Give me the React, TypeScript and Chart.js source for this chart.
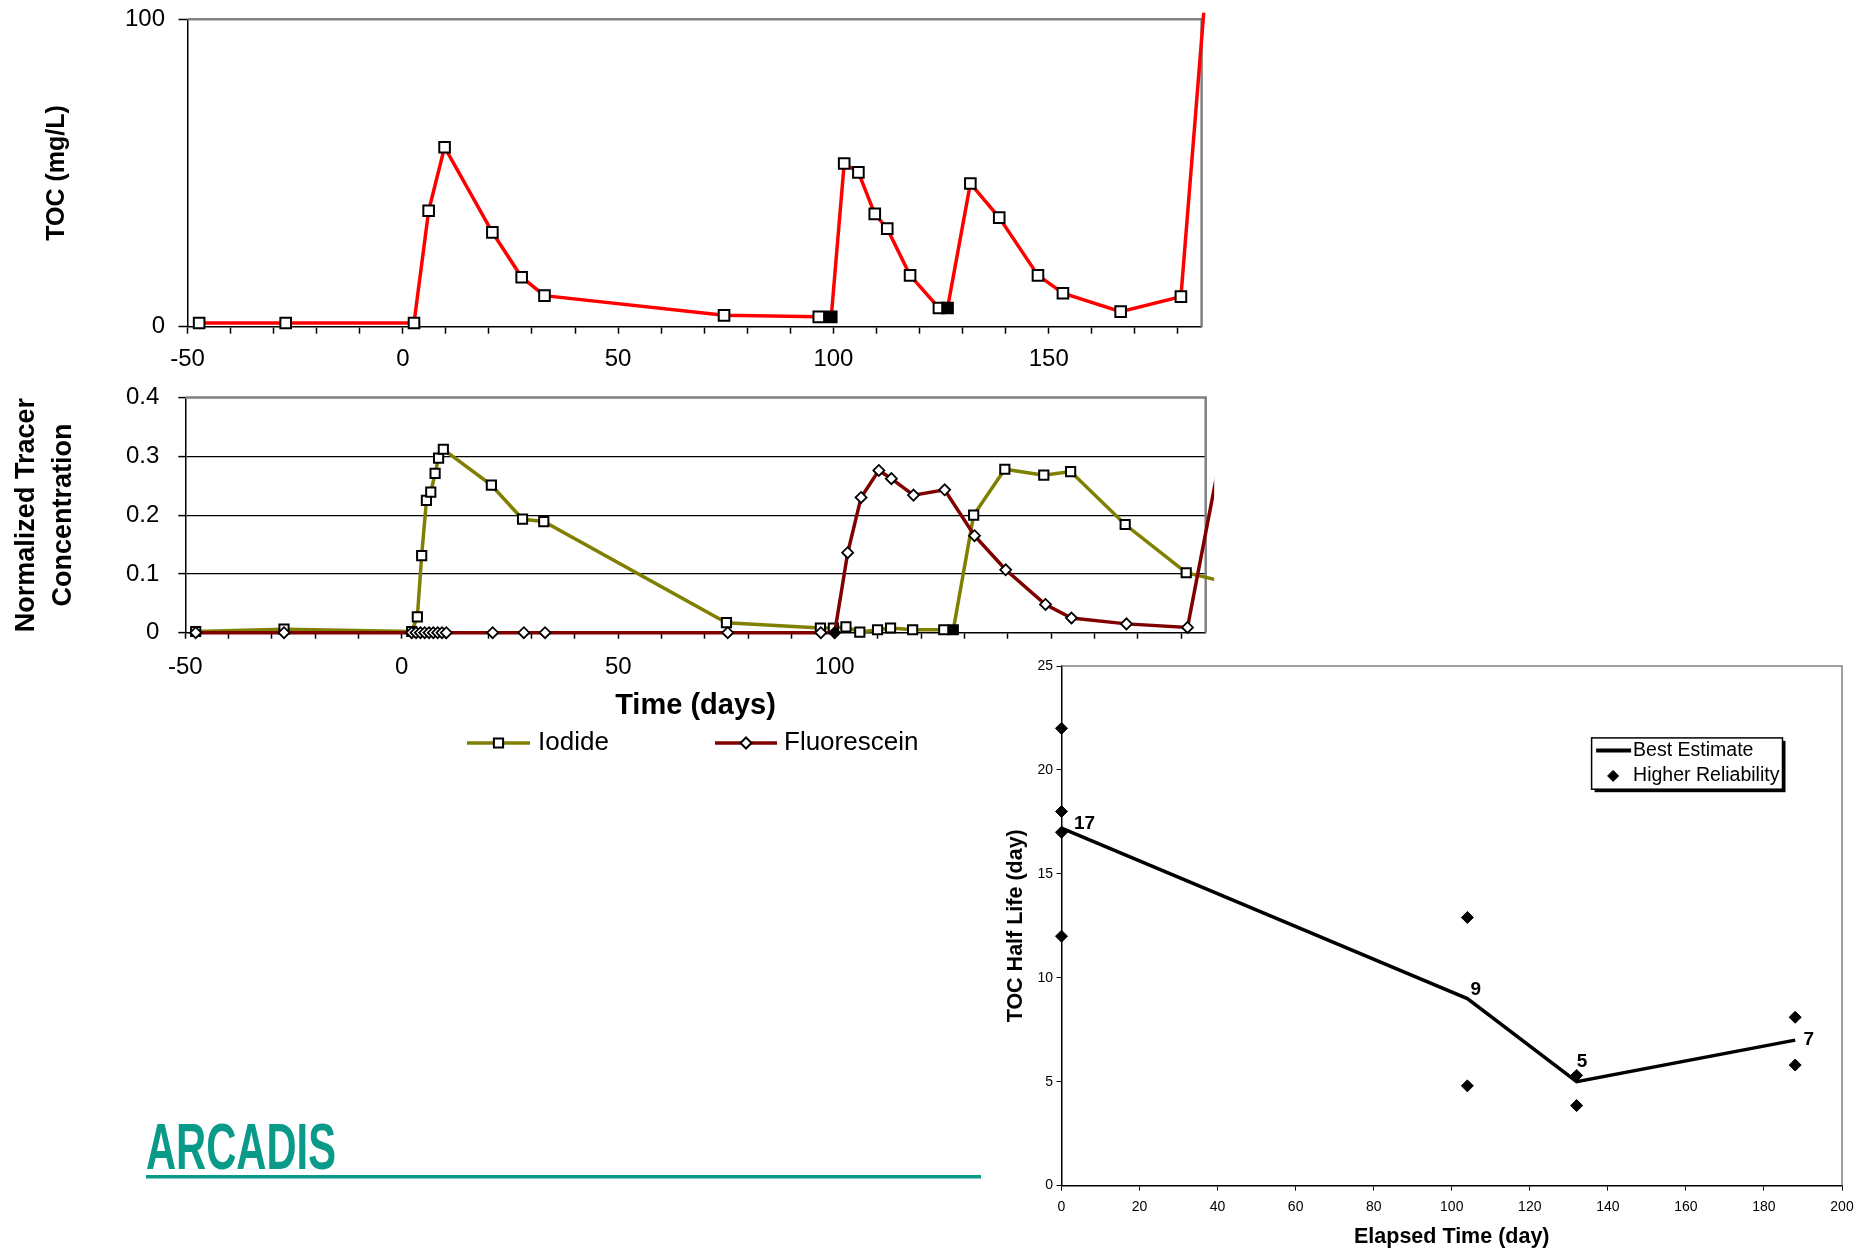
import React, { useEffect, useRef } from "react";
import { Chart, registerables } from "chart.js";

Chart.register(...registerables);

const FONT = "'Liberation Sans', Arial, Helvetica, sans-serif";
Chart.defaults.font.family = FONT;
Chart.defaults.color = "#000";

// ---------- Top chart: TOC (mg/L) vs time (days)
const tocDays = [-47.3, -27.2, 2.6, 6, 9.7, 20.8, 27.6, 32.9, 74.6, 96.6, 99.5, 102.5, 105.8, 109.6, 112.5, 117.8, 124.5, 126.5, 131.8, 138.5, 147.5, 153.3, 166.7, 180.7, 190];
const tocValues = [1.2, 1.2, 1.2, 37.7, 58.4, 30.7, 16.1, 10.1, 3.7, 3.2, 3.2, 53.1, 50.2, 36.7, 31.9, 16.7, 6.1, 6.1, 46.6, 35.5, 16.7, 10.9, 4.9, 9.8, 172];
const tocFilledDays = [99.5, 126.5];

// ---------- Middle chart: normalized tracer concentration
const iodideDays = [-47.6, -27.2, 2.3, 3.6, 4.6, 5.7, 6.7, 7.7, 8.5, 9.6, 20.7, 27.9, 32.8, 75, 96.7, 99.7, 102.6, 105.8, 109.9, 112.9, 118, 125.2, 127.4, 132.1, 139.3, 148.3, 154.5, 167.1, 181.2, 195];
const iodideValues = [0.002, 0.006, 0.002, 0.027, 0.131, 0.225, 0.239, 0.271, 0.297, 0.312, 0.251, 0.193, 0.189, 0.017, 0.008, 0.008, 0.01, 0.001, 0.005, 0.008, 0.005, 0.005, 0.005, 0.2, 0.278, 0.268, 0.274, 0.184, 0.102, 0.078];
const iodideFilledDays = [127.4];

const fluorDays = [-47.6, -27.2, 2.3, 3.3, 4.3, 5.3, 6.3, 7.3, 8.3, 9.3, 10.3, 21, 28.2, 33.1, 75.3, 96.8, 100, 103, 106.1, 110.2, 113.1, 118.2, 125.4, 132.3, 139.5, 148.7, 154.7, 167.4, 181.5, 190];
const fluorValues = [0, 0, 0, 0, 0, 0, 0, 0, 0, 0, 0, 0, 0, 0, 0, 0, 0, 0.136, 0.23, 0.276, 0.262, 0.234, 0.243, 0.165, 0.107, 0.048, 0.025, 0.015, 0.009, 0.335];
const fluorFilledDays = [100];

// ---------- Right chart: TOC half life
const bestDays = [0, 104, 132, 188];
const bestValues = [17.2, 9, 5, 7];
const bestLabels = ["17", "9", "5", "7"];
const reliabilityDays = [0, 0, 0, 0, 104, 104, 132, 132, 188, 188];
const reliabilityValues = [22, 18, 17, 12, 12.9, 4.8, 5.3, 3.85, 8.1, 5.8];

const pts = (xs: number[], ys: number[]) => xs.map((x, i) => ({ x, y: ys[i] }));
const fillFor = (list: number[]) => (c: any) =>
  c && c.raw && list.includes(c.raw.x) ? "#000" : "#fff";

const framePlugin = {
  id: "frame",
  beforeDatasetsDraw(chart: any, _a: any, opts: any) {
    const { ctx, chartArea: a } = chart;
    ctx.save();
    ctx.strokeStyle = opts.color || "#808080";
    ctx.lineWidth = opts.width || 2;
    ctx.beginPath();
    ctx.moveTo(a.left, a.top);
    ctx.lineTo(a.right, a.top);
    ctx.lineTo(a.right, a.bottom);
    ctx.stroke();
    ctx.restore();
  },
};

function drawMarker(ctx: CanvasRenderingContext2D, style: string, x: number, y: number, r: number, fill: string, stroke: string, lw: number) {
  ctx.save();
  ctx.beginPath();
  if (style === "rect") {
    const s = r * Math.SQRT1_2;
    ctx.rect(x - s, y - s, 2 * s, 2 * s);
  } else {
    ctx.moveTo(x, y - r);
    ctx.lineTo(x + r, y);
    ctx.lineTo(x, y + r);
    ctx.lineTo(x - r, y);
    ctx.closePath();
  }
  ctx.fillStyle = fill;
  ctx.fill();
  ctx.lineWidth = lw;
  ctx.strokeStyle = stroke;
  ctx.stroke();
  ctx.restore();
}

// legend for tracer chart: line + marker + label (drawn below the axis title)
const tracerLegendLayout = { y: 363, items: [{ x0: 467, x1: 530, text: 538 }, { x0: 715, x1: 777, text: 784 }] };
const tracerLegend = {
  id: "tracerLegend",
  afterDraw(chart: any) {
    const { ctx } = chart;
    const ds = [...chart.data.datasets].sort((a: any, b: any) => (a.legendIndex ?? 0) - (b.legendIndex ?? 0));
    ds.forEach((d: any, i: number) => {
      const L = tracerLegendLayout.items[i];
      const y = tracerLegendLayout.y;
      ctx.save();
      ctx.strokeStyle = d.borderColor;
      ctx.lineWidth = 3.5;
      ctx.beginPath();
      ctx.moveTo(L.x0, y);
      ctx.lineTo(L.x1, y);
      ctx.stroke();
      ctx.restore();
      drawMarker(ctx, d.pointStyle, (L.x0 + L.x1) / 2, y, d.pointRadius, "#fff", "#000", 2);
      ctx.save();
      ctx.fillStyle = "#000";
      ctx.font = `26px ${FONT}`;
      ctx.textAlign = "left";
      ctx.textBaseline = "middle";
      ctx.fillText(d.label, L.text, y);
      ctx.restore();
    });
  },
};

// right chart: data labels and legend box
const labelOffsets = [
  { dx: 23, dy: -4.5 },
  { dx: 8.5, dy: -9 },
  { dx: 5.5, dy: -20 },
  { dx: 13.5, dy: 0 },
];
const halfLifeLabels = {
  id: "halfLifeLabels",
  afterDatasetsDraw(chart: any) {
    const { ctx } = chart;
    const meta = chart.getDatasetMeta(0);
    ctx.save();
    ctx.font = `bold 19px ${FONT}`;
    ctx.fillStyle = "#000";
    ctx.textAlign = "center";
    ctx.textBaseline = "middle";
    meta.data.forEach((el: any, i: number) => {
      const o = labelOffsets[i];
      ctx.fillText(bestLabels[i], el.x + o.dx, el.y + o.dy);
    });
    ctx.restore();
  },
};
const halfLifeLegendBox = { x: 591.6, y: 92.9, w: 190.9, h: 51.3 };
const halfLifeLegend = {
  id: "halfLifeLegend",
  afterDraw(chart: any) {
    const { ctx } = chart;
    const b = halfLifeLegendBox;
    ctx.save();
    ctx.fillStyle = "#000";
    ctx.fillRect(b.x + 3, b.y + 3, b.w, b.h);
    ctx.fillStyle = "#fff";
    ctx.fillRect(b.x, b.y, b.w, b.h);
    ctx.strokeStyle = "#000";
    ctx.lineWidth = 1.5;
    ctx.strokeRect(b.x, b.y, b.w, b.h);
    const [line, pts2] = chart.data.datasets;
    const y1 = b.y + 12.5;
    const y2 = b.y + 38;
    ctx.lineWidth = 4;
    ctx.beginPath();
    ctx.moveTo(b.x + 4.5, y1);
    ctx.lineTo(b.x + 39.5, y1);
    ctx.stroke();
    ctx.restore();
    drawMarker(ctx, "rectRot", b.x + 21.5, y2, 5.5, "#000", "#000", 1);
    ctx.save();
    ctx.font = `19.5px ${FONT}`;
    ctx.fillStyle = "#000";
    ctx.textAlign = "left";
    ctx.textBaseline = "middle";
    ctx.fillText(line.label, b.x + 41.5, y1);
    ctx.fillText(pts2.label, b.x + 41.5, y2);
    ctx.restore();
  },
};

const tickFont = { family: FONT, size: 24 };

// fix axis box sizes so the plot areas line up with the reference
const fixHeight = (h: number) => (s: any) => {
  s.height = h;
  s.paddingLeft = 0;
  s.paddingRight = 0;
};
const fixWidth = (w: number) => (s: any) => {
  s.width = w;
  s.paddingTop = 0;
  s.paddingBottom = 0;
};

function timeAxis(height: number, tl: number, pad: number, max: number, title?: any) {
  return {
    type: "linear",
    min: -50,
    max,
    afterFit: fixHeight(height),
    grid: { drawOnChartArea: false, drawTicks: true, tickLength: tl, tickColor: "#000", tickWidth: 1.5 },
    border: { color: "#000", width: 1.5 },
    ticks: {
      stepSize: 10, autoSkip: false, includeBounds: false, maxRotation: 0, minRotation: 0,
      padding: pad, font: tickFont, color: "#000",
      callback: (v: number) => (v % 50 === 0 ? String(v) : ""),
    },
    title: title || { display: false },
  };
}

function topConfig(): any {
  return {
    type: "line",
    data: {
      datasets: [
        {
          label: "TOC",
          data: pts(tocDays, tocValues),
          borderColor: "#ff0000",
          borderWidth: 3.5,
          pointStyle: "rect",
          pointRadius: 7.5,
          pointBorderColor: "#000",
          pointBorderWidth: 2,
          pointBackgroundColor: fillFor(tocFilledDays),
          clip: { left: 10, top: 6.5, right: 10, bottom: 10 },
        },
      ],
    },
    options: {
      responsive: false,
      animation: false,
      events: [],
      layout: { padding: { left: 0, top: 19.3, right: 38.4, bottom: 0 } },
      plugins: { legend: { display: false }, tooltip: { enabled: false }, frame: { color: "#808080", width: 2.5 } },
      scales: {
        x: timeAxis(53.3, 7, 11, 185.5),
        y: {
          min: 0,
          max: 100,
          afterFit: fixWidth(187.5),
          grid: { drawOnChartArea: false, drawTicks: true, tickLength: 9, tickColor: "#000", tickWidth: 1.5 },
          border: { color: "#000", width: 1.5 },
          ticks: { stepSize: 100, padding: 13.5, font: tickFont, color: "#000" },
          title: {
            display: true,
            text: "TOC (mg/L)",
            color: "#000",
            font: { family: FONT, size: 25, weight: "bold" },
            padding: { top: 41.7, bottom: 0 },
          },
        },
      },
    },
    plugins: [framePlugin],
  };
}

function middleConfig(): any {
  return {
    type: "line",
    data: {
      datasets: [
        {
          label: "Iodide",
          legendIndex: 0,
          order: 1,
          data: pts(iodideDays, iodideValues),
          borderColor: "#808000",
          borderWidth: 3.5,
          pointStyle: "rect",
          pointRadius: 6.5,
          pointBorderColor: "#000",
          pointBorderWidth: 2,
          pointBackgroundColor: fillFor(iodideFilledDays),
          clip: { left: 10, top: 10, right: 8.5, bottom: 10 },
        },
        {
          label: "Fluorescein",
          legendIndex: 1,
          order: 0,
          data: pts(fluorDays, fluorValues),
          borderColor: "#800000",
          borderWidth: 3.5,
          pointStyle: "rectRot",
          pointRadius: 5.5,
          pointBorderColor: "#000",
          pointBorderWidth: 1.8,
          pointBackgroundColor: fillFor(fluorFilledDays),
          clip: { left: 10, top: 10, right: 8.5, bottom: 10 },
        },
      ],
    },
    options: {
      responsive: false,
      animation: false,
      events: [],
      layout: { padding: { left: 0, top: 17.5, right: 34.3, bottom: 60.2 } },
      plugins: { legend: { display: false }, tooltip: { enabled: false }, frame: { color: "#808080", width: 2.5 } },
      scales: {
        x: timeAxis(87.1, 6, 14, 185.7, {
          display: true,
          text: "Time (days)",
          color: "#000",
          font: { family: FONT, size: 29, weight: "bold" },
          padding: { top: 0, bottom: -3.5 },
        }),
        y: {
          min: 0,
          max: 0.4,
          afterFit: fixWidth(185.3),
          grid: {
            drawOnChartArea: true,
            drawTicks: true,
            tickLength: 7,
            tickColor: "#000",
            tickWidth: 1.5,
            lineWidth: 1.2,
            color: (c: any) => (c.tick && c.tick.value > 0.05 && c.tick.value < 0.35 ? "#000" : "rgba(0,0,0,0)"),
          },
          border: { color: "#000", width: 1.5 },
          ticks: {
            stepSize: 0.1,
            padding: 19,
            font: tickFont,
            color: "#000",
            callback: (v: number) => (v === 0 ? "0" : Number(v).toFixed(1)),
          },
          title: {
            display: true,
            text: ["Normalized Tracer", "Concentration"],
            color: "#000",
            font: { family: FONT, size: 27, weight: "bold", lineHeight: 1.36 },
            padding: { top: 8.5, bottom: 0 },
          },
        },
      },
    },
    plugins: [framePlugin, tracerLegend],
  };
}

function rightConfig(): any {
  const smallTick = { family: FONT, size: 14 };
  return {
    type: "line",
    data: {
      datasets: [
        {
          label: "Best Estimate",
          data: pts(bestDays, bestValues),
          borderColor: "#000",
          borderWidth: 3.5,
          pointRadius: 0,
          clip: false,
          order: 1,
        },
        {
          label: "Higher Reliability",
          data: pts(reliabilityDays, reliabilityValues),
          showLine: false,
          pointStyle: "rectRot",
          pointRadius: 6,
          pointBackgroundColor: "#000",
          pointBorderColor: "#000",
          pointBorderWidth: 1,
          borderColor: "#000",
          backgroundColor: "#000",
          clip: false,
          order: 0,
        },
      ],
    },
    options: {
      responsive: false,
      animation: false,
      events: [],
      layout: { padding: { left: 0, top: 21, right: 30, bottom: 0 } },
      plugins: { legend: { display: false }, tooltip: { enabled: false }, frame: { color: "#808080", width: 1.5 } },
      scales: {
        x: {
          type: "linear",
          min: 0,
          max: 200,
          afterFit: fixHeight(65.4),
          grid: { drawOnChartArea: false, drawTicks: true, tickLength: 5, tickColor: "#000", tickWidth: 1 },
          border: { color: "#000", width: 1.5 },
          ticks: { stepSize: 20, autoSkip: false, maxRotation: 0, padding: 8, font: smallTick, color: "#000" },
          title: {
            display: true,
            text: "Elapsed Time (day)",
            color: "#000",
            font: { family: FONT, size: 21.5, weight: "bold" },
            padding: { top: 0, bottom: 1 },
          },
        },
        y: {
          min: 0,
          max: 25,
          afterFit: fixWidth(61.5),
          grid: { drawOnChartArea: false, drawTicks: true, tickLength: 5, tickColor: "#000", tickWidth: 1 },
          border: { color: "#000", width: 1.5 },
          ticks: { stepSize: 5, padding: 3.5, font: smallTick, color: "#000" },
          title: {
            display: true,
            text: "TOC Half Life (day)",
            color: "#000",
            font: { family: FONT, size: 21.5, weight: "bold" },
            padding: { top: 3, bottom: 0 },
          },
        },
      },
    },
    plugins: [framePlugin, halfLifeLabels, halfLifeLegend],
  };
}

export default function App() {
  const topRef = useRef<HTMLCanvasElement>(null);
  const midRef = useRef<HTMLCanvasElement>(null);
  const rightRef = useRef<HTMLCanvasElement>(null);

  useEffect(() => {
    const charts = [
      new Chart(topRef.current as HTMLCanvasElement, topConfig()),
      new Chart(midRef.current as HTMLCanvasElement, middleConfig()),
      new Chart(rightRef.current as HTMLCanvasElement, rightConfig()),
    ];
    return () => charts.forEach((c) => c.destroy());
  }, []);

  const abs = (l: number, t: number): React.CSSProperties => ({ position: "absolute", left: l, top: t, display: "block" });

  return (
    <div style={{ position: "absolute", left: 0, top: 0, width: 1872, height: 1251, background: "#fff", overflow: "hidden" }}>
      <canvas ref={topRef} width={1240} height={380} style={abs(0, 0)} />
      <canvas ref={midRef} width={1240} height={400} style={abs(0, 380)} />
      <canvas ref={rightRef} width={872} height={606} style={{ ...abs(1000, 645), background: "#fff" }} />
      <svg width={880} height={90} style={abs(140, 1100)}>
        <text
          x={6}
          y={69}
          fontFamily={FONT}
          fontSize={64}
          fontWeight="bold"
          fill="#0a9a8a"
          textLength={190}
          lengthAdjust="spacingAndGlyphs"
        >
          ARCADIS
        </text>
        <rect x={6} y={75} width={835} height={3.5} fill="#0a9a8a" />
      </svg>
    </div>
  );
}
